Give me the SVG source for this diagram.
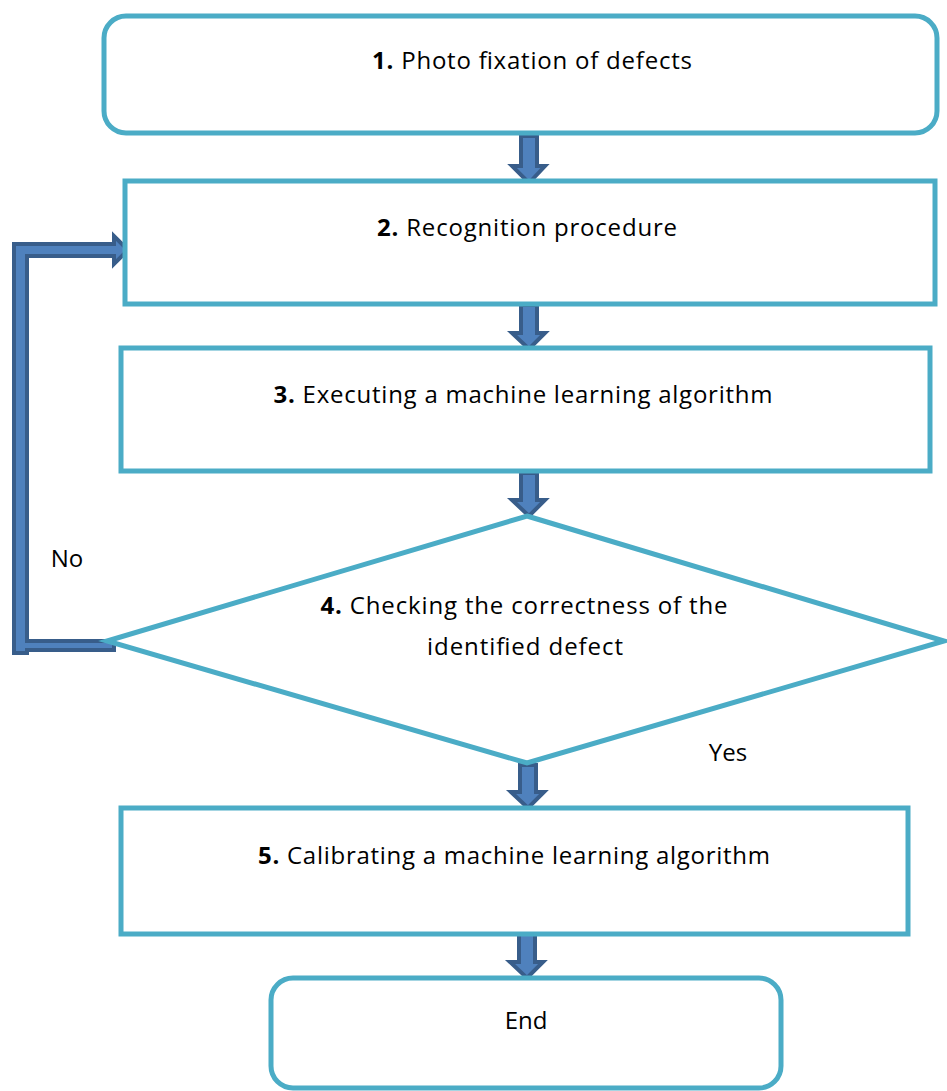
<svg xmlns="http://www.w3.org/2000/svg" width="947" height="1091" viewBox="0 0 947 1091">
<style>
.box{fill:#fff;stroke:#4BACC6;stroke-width:5}
.t{font-family:"Open Sans","Liberation Sans",Arial,sans-serif;font-size:24px;fill:#000;text-anchor:middle}
.b{font-weight:bold}
.arr{fill:#4F81BD;stroke:#385D8A;stroke-width:4;stroke-linejoin:miter}
</style>
<rect width="947" height="1091" fill="#fff"/>
<g id="connectors">
<path class="arr" d="M521,136 H537 V166 H545 L529,183 L512,166 H521 Z"/>
<path class="arr" d="M521,305 H537 V333 H545 L529,349 L512,333 H521 Z"/>
<path class="arr" d="M521,473 H537 V500 H545 L529,516 L512,500 H521 Z"/>
<path class="arr" d="M520,765 H536 V792 H544 L528,808 L511,792 H520 Z"/>
<path class="arr" d="M519,934 H535 V962 H543 L527,978 L510,962 H519 Z"/>
<path class="arr" d="M14,653 V244 H114 V236 L128,250 L114,264 V256 H27 V641 H114 V650 H27 V653 Z"/>
</g>
<g id="n1"><rect class="box" x="104" y="16" width="833" height="117" rx="22"/><text class="t" x="532" y="69" textLength="320"><tspan class="b">1.</tspan> Photo fixation of defects</text></g>
<g id="n2"><rect class="box" x="125" y="181" width="810" height="123"/><text class="t" x="527" y="236" textLength="300"><tspan class="b">2.</tspan> Recognition procedure</text></g>
<g id="n3"><rect class="box" x="121" y="348" width="809" height="123"/><text class="t" x="523" y="403" textLength="499"><tspan class="b">3.</tspan> Executing a machine learning algorithm</text></g>
<g id="n4"><polygon class="box" points="527,516 944,641 527,763 107,641"/><text class="t" x="524" y="614" textLength="407"><tspan class="b">4.</tspan> Checking the correctness of the</text><text class="t" x="525" y="655" textLength="196">identified defect</text></g>
<g id="n5"><rect class="box" x="121" y="808" width="787" height="126"/><text class="t" x="514" y="864" textLength="512"><tspan class="b">5.</tspan> Calibrating a machine learning algorithm</text></g>
<g id="n6"><rect class="box" x="271" y="978" width="510" height="110" rx="22"/><text class="t" x="526" y="1029">End</text></g>
<text class="t" x="67" y="567">No</text>
<text class="t" x="728" y="761">Yes</text>
</svg>
